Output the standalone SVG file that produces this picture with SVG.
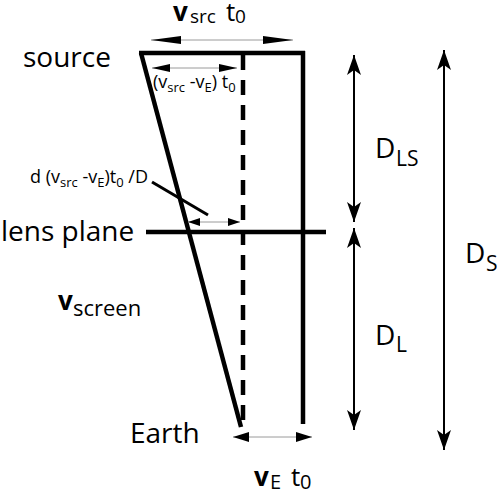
<svg xmlns="http://www.w3.org/2000/svg" width="497" height="494" viewBox="0 0 497 494">
<style>
text{font-family:"Open Sans","Noto Sans",sans-serif;fill:#000}
.big{font-size:28px}
.bv{font-size:26px;font-weight:bold}
.mid{font-size:18px}
.sub{font-size:13px}
.thick{stroke:#000;stroke-width:4.5;fill:none}
.thin{stroke:#9a9a9a;stroke-width:1;fill:none}
.dim{stroke:#000;stroke-width:2;fill:none}
</style>
<defs>
<marker id="hTop" viewBox="0 0 30 8" refX="30" refY="4" markerWidth="30" markerHeight="8" markerUnits="userSpaceOnUse" orient="auto-start-reverse"><path d="M0,0 L30,4 L0,8 Z" fill="#000"/></marker>
<marker id="hMid" viewBox="0 0 18 8" refX="18" refY="4" markerWidth="18" markerHeight="8" markerUnits="userSpaceOnUse" orient="auto-start-reverse"><path d="M0,0 L18,4 L0,8 Z" fill="#000"/></marker>
<marker id="hSmall" viewBox="0 0 12 8" refX="12" refY="4" markerWidth="12" markerHeight="8" markerUnits="userSpaceOnUse" orient="auto-start-reverse"><path d="M0,0 L12,4 L0,8 Z" fill="#000"/></marker>
<marker id="hEarth" viewBox="0 0 16 10" refX="16" refY="5" markerWidth="16" markerHeight="10" markerUnits="userSpaceOnUse" orient="auto-start-reverse"><path d="M0,0 L16,5 L0,10 Z" fill="#000"/></marker>
<marker id="hDim" viewBox="0 0 20 14" refX="20" refY="7" markerWidth="20" markerHeight="14" markerUnits="userSpaceOnUse" orient="auto-start-reverse"><path d="M0,0 L20,7 L0,14 L5,7 Z" fill="#000"/></marker>
</defs>

<g id="geometry">
<line class="thick" x1="139" y1="53" x2="305" y2="53"/>
<line class="thick" x1="303" y1="51" x2="303" y2="424"/>
<line class="thick" x1="141" y1="53" x2="241" y2="427"/>
<line class="thick" x1="243" y1="55" x2="243" y2="420" stroke-dasharray="15 10"/>
<line class="thick" x1="146" y1="232" x2="326" y2="232"/>
<line x1="152" y1="182" x2="208" y2="215" stroke="#000" stroke-width="3"/>
</g>

<g id="connectors">
<line class="thin" x1="151" y1="40" x2="293" y2="40" marker-start="url(#hTop)" marker-end="url(#hTop)"/>
<line class="thin" x1="152" y1="68" x2="237" y2="68" marker-start="url(#hMid)" marker-end="url(#hMid)"/>
<line class="thin" x1="188" y1="222" x2="240" y2="222" marker-start="url(#hSmall)" marker-end="url(#hSmall)"/>
<line class="thin" x1="233" y1="437" x2="312" y2="437" marker-start="url(#hEarth)" marker-end="url(#hEarth)"/>
<line class="dim" x1="354" y1="55" x2="354" y2="222" marker-start="url(#hDim)" marker-end="url(#hDim)"/>
<line class="dim" x1="354" y1="228" x2="354" y2="430" marker-start="url(#hDim)" marker-end="url(#hDim)"/>
<line class="dim" x1="444" y1="50" x2="444" y2="450" marker-start="url(#hDim)" marker-end="url(#hDim)"/>
</g>

<g id="label-vsrc-t0">
<text><tspan class="bv" x="173" y="21">v</tspan><tspan x="190" y="23" font-size="19">src</tspan><tspan x="226" y="21" font-size="26">t</tspan><tspan x="235" y="23" font-size="19">0</tspan></text>
</g>
<g id="label-source"><text class="big" x="23" y="67">source</text></g>
<g id="label-rel"><text class="mid" x="153" y="88">(v<tspan class="sub" dy="4">src</tspan><tspan dy="-4"> -v</tspan><tspan class="sub" dy="4">E</tspan><tspan dy="-4">) t</tspan><tspan class="sub" dy="4">0</tspan></text></g>
<g id="label-d"><text class="mid" x="30" y="183">d (v<tspan class="sub" dy="4">src</tspan><tspan dy="-4"> -v</tspan><tspan class="sub" dy="4">E</tspan><tspan dy="-4">)t</tspan><tspan class="sub" dy="4">0</tspan><tspan dy="-4"> /D</tspan></text></g>
<g id="label-lens"><text class="big" x="1" y="241">lens plane</text></g>
<g id="label-vscreen"><text><tspan class="bv" x="58" y="310">v</tspan><tspan x="73" y="316" font-size="22">screen</tspan></text></g>
<g id="label-earth"><text class="big" x="130" y="443">Earth</text></g>
<g id="label-vE-t0"><text><tspan class="bv" x="254" y="486">v</tspan><tspan x="270" y="489" font-size="20">E</tspan><tspan x="291" y="486" font-size="26">t</tspan><tspan x="300" y="489" font-size="20">0</tspan></text></g>
<g id="label-DLS"><text><tspan class="big" x="375" y="158">D</tspan><tspan x="396" y="166" font-size="21">LS</tspan></text></g>
<g id="label-DL"><text><tspan class="big" x="375" y="345">D</tspan><tspan x="396" y="352" font-size="21">L</tspan></text></g>
<g id="label-DS"><text><tspan class="big" x="465" y="263">D</tspan><tspan x="486" y="271" font-size="21">S</tspan></text></g>
</svg>
